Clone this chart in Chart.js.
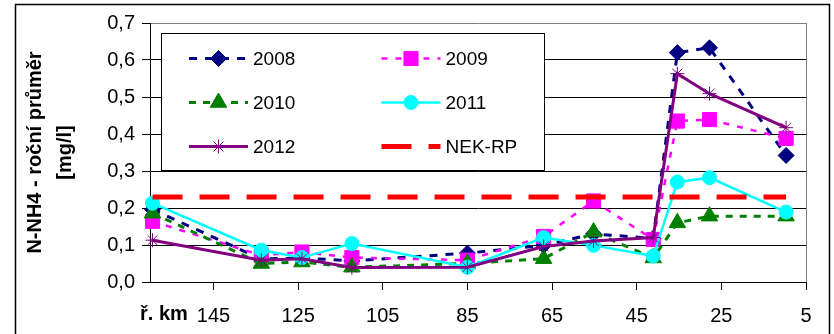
<!DOCTYPE html>
<html>
<head>
<meta charset="utf-8">
<title>N-NH4 - roční průměr</title>
<script src="https://cdn.jsdelivr.net/npm/chart.js@4/dist/chart.umd.min.js"></script>
<style>
  body { margin: 0; background: #fff; }
</style>
</head>
<body>
<canvas id="nh4Chart" width="834" height="334"></canvas>
<script>
// říční km odběrných profilů
const riverKm = [159.4, 133.7, 124.1, 112.3, 85, 67, 55.2, 41.1, 35.4, 27.8, 9.7];

const values2008 = [0.196, 0.062, 0.065, 0.057, 0.078, 0.099, 0.13, 0.118, 0.62, 0.633, 0.342];
const values2009 = [0.164, 0.072, 0.081, 0.066, 0.059, 0.123, 0.219, 0.115, 0.435, 0.439, 0.388];
const values2010 = [0.186, 0.05, 0.054, 0.04, 0.05, 0.063, 0.135, 0.065, 0.16, 0.178, 0.178];
const values2011 = [0.213, 0.086, 0.066, 0.104, 0.04, 0.12, 0.099, 0.07, 0.27, 0.282, 0.189];
const values2012 = [0.113, 0.059, 0.063, 0.039, 0.04, 0.096, 0.111, 0.12, 0.563, 0.509, 0.417];

const nekRp = 0.23; // limit NEK-RP
const xTicks = [145, 125, 105, 85, 65, 45, 25, 5];

const FONT = "'Liberation Sans', Arial, sans-serif";

function toPoints(vals) {
  return vals.map((v, i) => ({ x: riverKm[i], y: v }));
}

function series(label, vals, color, style, radius, dash, width) {
  return {
    label: label,
    data: toPoints(vals),
    borderColor: color,
    backgroundColor: color,
    pointBackgroundColor: color,
    pointBorderColor: color,
    pointStyle: style,
    pointRadius: radius,
    pointBorderWidth: 1,
    borderDash: dash,
    borderWidth: width,
    tension: 0,
    clip: false,
  };
}

const datasets = [
  series('2008', values2008, '#000080', 'rectRot', 8, [8, 8], 3),
  series('2009', values2009, '#ff00ff', 'rect', 10, [6, 8], 2.5),
  series('2010', values2010, '#008000', 'triangle', 9.5, [7, 7], 3),
  series('2011', values2011, '#00ffff', 'circle', 7, [], 2.5),
  series('2012', values2012, '#800080', 'star', 7, [], 3),
  series('NEK-RP', [nekRp, nekRp], '#ff0000', 'circle', 0, [30, 17], 5),
];
// NEK-RP jen mezi krajními profily
datasets[5].data = [{ x: riverKm[0], y: nekRp }, { x: riverKm[riverKm.length - 1], y: nekRp }];
// pozdější řady kreslit navrch (jako v Excelu)
datasets.forEach((ds, i) => { ds.order = datasets.length - i; });

const frameAndLabels = {
  id: 'frameAndLabels',
  beforeDraw(chart) {
    const ctx = chart.ctx;
    ctx.save();
    ctx.fillStyle = '#fff';
    ctx.fillRect(0, 0, chart.width, chart.height);
    ctx.strokeStyle = '#000';
    ctx.lineWidth = 1.5;
    ctx.strokeRect(15.5, 4.5, 814, 340);
    ctx.restore();
  },
  afterDraw(chart) {
    const ctx = chart.ctx;
    const a = chart.chartArea;
    ctx.save();
    // šedý okraj zobrazované oblasti vpravo
    ctx.strokeStyle = '#808080';
    ctx.lineWidth = 1;
    ctx.beginPath();
    ctx.moveTo(Math.round(a.right) + 0.5, a.top);
    ctx.lineTo(Math.round(a.right) + 0.5, a.bottom);
    ctx.stroke();
    ctx.fillStyle = '#000';
    ctx.font = 'bold 20px ' + FONT;
    ctx.textBaseline = 'alphabetic';
    ctx.textAlign = 'left';
    ctx.fillText('ř. km', 140, 320);
    ctx.restore();
  },
};

const boxLegend = {
  id: 'boxLegend',
  afterDatasetsDraw(chart) {
    const ctx = chart.ctx;
    ctx.save();
    ctx.fillStyle = '#fff';
    ctx.strokeStyle = '#000';
    ctx.lineWidth = 1;
    ctx.fillRect(161.5, 33.5, 383, 137);
    ctx.strokeRect(161.5, 33.5, 383, 137);
    chart.data.datasets.forEach((ds, i) => {
      const col = i % 2;
      const row = Math.floor(i / 2);
      const x0 = col ? 381.5 : 189;
      const y = 58.5 + row * 44;
      ctx.setLineDash(ds.borderDash || []);
      ctx.strokeStyle = ds.borderColor;
      ctx.lineWidth = ds.borderWidth;
      ctx.beginPath();
      ctx.moveTo(x0, y);
      ctx.lineTo(x0 + 59, y);
      ctx.stroke();
      ctx.setLineDash([]);
      if (ds.pointRadius) {
        ctx.fillStyle = ds.pointBackgroundColor;
        ctx.strokeStyle = ds.pointBorderColor;
        ctx.lineWidth = 1;
        Chart.helpers.drawPoint(ctx, {
          pointStyle: ds.pointStyle, radius: ds.pointRadius, rotation: 0, borderWidth: 1,
        }, x0 + 29.5, y);
      }
      ctx.fillStyle = '#000';
      ctx.font = '19px ' + FONT;
      ctx.textBaseline = 'middle';
      ctx.fillText(ds.label, x0 + 64, y + 1);
    });
    ctx.restore();
  },
};

const nh4Chart = new Chart('nh4Chart', {
  type: 'line',
  data: { datasets: datasets },
  plugins: [frameAndLabels, boxLegend],
  options: {
    responsive: false,
    animation: false,
    devicePixelRatio: 1,
    layout: { padding: { left: 16, right: 28, top: 23, bottom: 12 } },
    plugins: {
      legend: { display: false },
      tooltip: { enabled: false },
    },
    scales: {
      x: {
        type: 'linear',
        reverse: true,
        min: 5,
        max: 160,
        afterBuildTicks: (scale) => {
          scale.ticks = xTicks.map((v) => ({ value: v }));
        },
        afterFit: (scale) => { scale.height = 40; },
        grid: { drawOnChartArea: false, drawTicks: true, tickLength: 8, color: '#000', tickColor: '#000' },
        border: { color: '#000', width: 1 },
        ticks: {
          color: '#000',
          font: { family: FONT, size: 20 },
          padding: 14,
          maxRotation: 0,
          autoSkip: false,
          callback: (v) => String(v),
        },
      },
      y: {
        min: 0,
        max: 0.7,
        afterFit: (scale) => { scale.width = 134; },
        grid: {
          color: (c) => (c.tick && c.tick.value > 0.65 ? '#808080' : '#000'),
          tickColor: '#000',
          tickLength: 8,
        },
        border: { color: '#000', width: 1 },
        ticks: {
          stepSize: 0.1,
          color: '#000',
          padding: 7,
          font: { family: FONT, size: 20 },
          callback: (v) => v.toFixed(1).replace('.', ','),
        },
        title: {
          display: true,
          text: ['N-NH4 - roční průměr', '[mg/l]'],
          color: '#000',
          font: { family: FONT, size: 20, weight: 'bold', lineHeight: 1.5 },
          padding: { top: 4, bottom: 0 },
        },
      },
    },
  },
});
</script>
</body>
</html>
